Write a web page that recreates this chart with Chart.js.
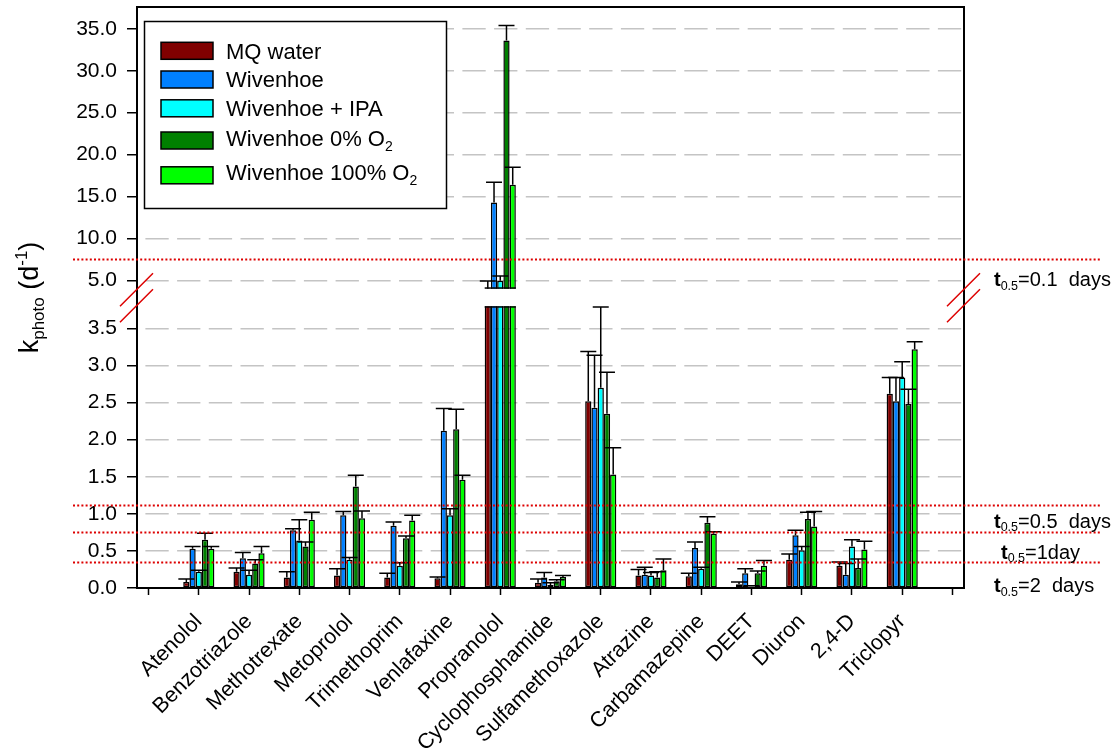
<!DOCTYPE html>
<html>
<head>
<meta charset="utf-8">
<title>Photolysis rate constants</title>
<style>
  html, body { margin: 0; padding: 0; background: #ffffff; }
  #wrap { position: relative; width: 1120px; height: 749px; }
</style>
<script src="https://cdn.jsdelivr.net/npm/chart.js@4/dist/chart.umd.min.js"></script>
</head>
<body>
<div id="wrap"><canvas id="chart" width="1120" height="749"></canvas></div>
<script>
// ---- data ---------------------------------------------------------------
const categories = ['Atenolol', 'Benzotriazole', 'Methotrexate', 'Metoprolol', 'Trimethoprim',
  'Venlafaxine', 'Propranolol', 'Cyclophosphamide', 'Sulfamethoxazole', 'Atrazine',
  'Carbamazepine', 'DEET', 'Diuron', '2,4-D', 'Triclopyr'];

const seriesNames = ['MQ water', 'Wivenhoe', 'Wivenhoe + IPA', 'Wivenhoe 0% O2', 'Wivenhoe 100% O2'];
const seriesColors = ['#800000', '#0080ff', '#00ffff', '#008000', '#00ff00'];

// k_photo (d^-1)
const mqWater    = [0.08, 0.22, 0.14, 0.17, 0.14, 0.13, 4.0,  0.07, 2.52, 0.17, 0.16, 0.05, 0.38, 0.30, 2.62];
const wivenhoe   = [0.53, 0.40, 0.78, 0.98, 0.84, 2.12, 14.3, 0.14, 2.43, 0.18, 0.54, 0.20, 0.71, 0.18, 2.52];
const wivIPA     = [0.22, 0.18, 0.64, 0.38, 0.30, 0.98, 4.95, 0.04, 2.70, 0.17, 0.26, 0.02, 0.51, 0.56, 2.84];
const wivO2zero  = [0.65, 0.33, 0.56, 1.37, 0.67, 2.14, 33.6, 0.09, 2.35, 0.14, 0.88, 0.20, 0.93, 0.27, 2.48];
const wivO2full  = [0.53, 0.47, 0.92, 0.94, 0.91, 1.46, 16.4, 0.15, 1.53, 0.24, 0.73, 0.30, 0.83, 0.52, 3.22];

// upper error (standard deviation)
const mqWaterErr   = [0.04, 0.05, 0.08, 0.09, 0.06, 0.02, 0.92, 0.05, 0.67, 0.08, 0.04, 0.03, 0.08, 0.05, 0.22];
const wivenhoeErr  = [0.03, 0.08, 0.02, 0.05, 0.05, 0.30, 2.40, 0.07, 0.71, 0.10, 0.08, 0.06, 0.07, 0.15, 0.32];
const wivIPAErr    = [0.02, 0.06, 0.28, 0.03, 0.04, 0.09, 0.58, 0.03, 1.09, 0.04, 0.02, 0.01, 0.05, 0.09, 0.21];
const wivO2zeroErr = [0.09, 0.05, 0.06, 0.15, 0.03, 0.27, 1.80, 0.02, 0.56, 0.08, 0.08, 0.03, 0.09, 0.12, 0.20];
const wivO2fullErr = [0.03, 0.09, 0.10, 0.10, 0.07, 0.06, 2.10, 0.02, 0.36, 0.15, 0.03, 0.07, 0.20, 0.11, 0.10];

// axis ticks
const yTickValues = [0, 0.5, 1, 1.5, 2, 2.5, 3, 3.5, 5, 10, 15, 20, 25, 30, 35];
const xTickValues = [0, 1, 2, 3, 4, 5, 6, 7, 8, 9, 10, 11, 12, 13, 14, 15, 16];
const xTickLabels = ['', ...categories, ''];

// broken y axis: lower part 0-3.8, upper part 4-37.6
const lowerMax = 3.8;
const upperMin = 4.0;
const upperMax = 37.6;

// half-life reference levels (k values) and their labels
const halfLifeK = [7.5, 1.12, 0.76, 0.345];
const halfLifeText = ['=0.1  days', '=0.5  days', '=1day', '=2  days'];

const seriesValues = [mqWater, wivenhoe, wivIPA, wivO2zero, wivO2full];
const seriesErrors = [mqWaterErr, wivenhoeErr, wivIPAErr, wivO2zeroErr, wivO2fullErr];

// ---- drawing helpers -------------------------------------------------------
const FONT = "'Liberation Sans', Arial, Helvetica, sans-serif";
Chart.defaults.font.family = FONT;
Chart.defaults.color = '#000';

// draws text made of segments: {t, bold, sub, sup}
function drawRich(ctx, segs, x, y, o) {
  const fontOf = s => `${s.bold ? 'bold ' : ''}${(s.sub || s.sup) ? o.small : o.size}px ${FONT}`;
  const widths = segs.map(s => { ctx.font = fontOf(s); return ctx.measureText(s.t).width; });
  const total = widths.reduce((a, b) => a + b, 0);
  let cx = o.align === 'center' ? x - total / 2 : (o.align === 'right' ? x - total : x);
  ctx.textAlign = 'left';
  ctx.textBaseline = 'alphabetic';
  segs.forEach((s, i) => {
    ctx.font = fontOf(s);
    const dy = s.sub ? o.subDy : (s.sup ? o.supDy : 0);
    ctx.fillText(s.t, cx, y + dy);
    cx += widths[i];
  });
}

function nameSegments(name) {
  const m = name.match(/^(.*O)2$/);
  return m ? [{ t: m[1] }, { t: '2', sub: true }] : [{ t: name }];
}

// ---- scale with a break between the two value ranges ----------------------
const GAP_SHARE = 0.03;
class BrokenLinearScale extends Chart.LinearScale {
  static id = 'brokenLinear';
  buildTicks() {
    return yTickValues.map(v => ({ value: v }));
  }
  segmentHeight() {
    return (this.bottom - this.top) * (1 - GAP_SHARE) / 2;
  }
  getPixelForValue(value) {
    if (value === null || value === undefined || isNaN(value)) return NaN;
    const seg = this.segmentHeight();
    if (value <= lowerMax) return this.bottom - (value / lowerMax) * seg;
    if (value >= upperMin) return this.top + ((upperMax - value) / (upperMax - upperMin)) * seg;
    const gTop = this.top + seg, gBot = this.bottom - seg;
    return gBot - (value - lowerMax) / (upperMin - lowerMax) * (gBot - gTop);
  }
  getValueForPixel(pixel) {
    const seg = this.segmentHeight();
    const gTop = this.top + seg, gBot = this.bottom - seg;
    if (pixel >= gBot) return (this.bottom - pixel) / seg * lowerMax;
    if (pixel <= gTop) return upperMax - (pixel - this.top) / seg * (upperMax - upperMin);
    return lowerMax + (gBot - pixel) / (gBot - gTop) * (upperMin - lowerMax);
  }
}
Chart.register(BrokenLinearScale);

// ---- plugin: break gap, error bars, reference lines, legend, frame --------
const decorations = {
  id: 'decorations',
  beforeDatasetsDraw(chart) {
    const { ctx, chartArea: a, scales: { y } } = chart;
    const gTop = y.getPixelForValue(upperMin);
    const gBot = y.getPixelForValue(lowerMax);
    ctx.save();
    ctx.beginPath();
    ctx.rect(a.left - 30, a.top - 30, a.width + 60, gTop - a.top + 30);
    ctx.rect(a.left - 30, gBot, a.width + 60, a.bottom - gBot + 30);
    ctx.clip();
  },
  afterDatasetsDraw(chart) {
    const { ctx, chartArea: a, scales: { y } } = chart;
    ctx.restore();
    const gTop = y.getPixelForValue(upperMin);
    const gBot = y.getPixelForValue(lowerMax);
    const bw = 1.5;

    // closing edges of the bars that cross the break
    ctx.save();
    ctx.fillStyle = '#000';
    chart.data.datasets.forEach((ds, di) => {
      chart.getDatasetMeta(di).data.forEach((bar, i) => {
        const v = ds.data[i].y;
        if (v > lowerMax) {
          const l = bar.x - bar.width / 2;
          ctx.fillRect(l, gBot, bar.width, bw);
          if (v >= upperMin) ctx.fillRect(l, gTop - bw, bar.width, bw);
        }
      });
    });

    // error bars (upper only)
    ctx.strokeStyle = '#000';
    ctx.lineWidth = 1.5;
    chart.data.datasets.forEach((ds, di) => {
      const errs = seriesErrors[di];
      chart.getDatasetMeta(di).data.forEach((bar, i) => {
        const v = ds.data[i].y;
        const yTop = y.getPixelForValue(v);
        const yErr = y.getPixelForValue(v + errs[i]);
        ctx.beginPath();
        ctx.moveTo(bar.x, yTop);
        ctx.lineTo(bar.x, yErr);
        ctx.moveTo(bar.x - 8, yErr);
        ctx.lineTo(bar.x + 8, yErr);
        ctx.stroke();
      });
    });

    // plot frame
    ctx.lineWidth = 2;
    ctx.strokeRect(a.left, a.top, a.width, a.height);

    // half-life reference lines
    ctx.strokeStyle = '#dd0000';
    ctx.lineWidth = 2;
    ctx.setLineDash([2, 2.2]);
    halfLifeK.forEach(k => {
      const py = Math.round(y.getPixelForValue(k)) + 0.5;
      ctx.beginPath();
      ctx.moveTo(73, py);
      ctx.lineTo(1102, py);
      ctx.stroke();
    });
    ctx.setLineDash([]);

    ctx.fillStyle = '#000';
    const labelDy = [27, 23, 27, 30];
    const labelX = [994, 994, 1001, 994];
    halfLifeK.forEach((k, i) => {
      const py = y.getPixelForValue(k);
      drawRich(ctx, [{ t: 't', bold: true }, { t: '0.5', sub: true }, { t: halfLifeText[i] }],
        labelX[i], py + labelDy[i], { size: 20, small: 12.5, subDy: 3.5, align: 'left' });
    });

    // axis break marks
    ctx.lineWidth = 1.5;
    const brk = (x) => {
      ctx.beginPath();
      ctx.moveTo(x - 17, gBot + 0); ctx.lineTo(x + 16, gBot - 33);
      ctx.moveTo(x - 17, gBot + 16); ctx.lineTo(x + 16, gBot - 17);
      ctx.stroke();
    };
    brk(a.left);
    brk(a.right);
    ctx.restore();
  },
  afterDraw(chart) {
    const { ctx } = chart;
    ctx.save();
    // legend
    ctx.fillStyle = '#fff';
    ctx.fillRect(144.5, 21.5, 302, 187);
    ctx.strokeStyle = '#000';
    ctx.lineWidth = 1.5;
    ctx.strokeRect(144.5, 21.5, 302, 187);
    const swatchMid = [50.8, 79.5, 108.3, 140.5, 175.3];
    const textBase = [59, 87.3, 116, 145.7, 180];
    seriesNames.forEach((name, i) => {
      ctx.fillStyle = seriesColors[i];
      ctx.fillRect(161, swatchMid[i] - 8.5, 52, 17);
      ctx.strokeRect(161, swatchMid[i] - 8.5, 52, 17);
      ctx.fillStyle = '#000';
      drawRich(ctx, nameSegments(name), 226, textBase[i], { size: 22, small: 14, subDy: 5, align: 'left' });
    });

    // y-axis title
    ctx.translate(38, 297.5);
    ctx.rotate(-Math.PI / 2);
    ctx.fillStyle = '#000';
    drawRich(ctx, [{ t: 'k' }, { t: 'photo', sub: true }, { t: ' (d' }, { t: '-1', sup: true }, { t: ')' }],
      0, 0, { size: 27, small: 17, subDy: 6, supDy: -11, align: 'center' });
    ctx.restore();
  }
};

// ---- chart ------------------------------------------------------------------
new Chart(document.getElementById('chart'), {
  type: 'bar',
  data: {
    datasets: seriesNames.map((name, si) => ({
      label: name,
      data: seriesValues[si].map((v, i) => ({ x: i + 1, y: v })),
      backgroundColor: seriesColors[si],
      borderColor: '#000',
      borderWidth: 1.5,
      borderSkipped: false,
      categoryPercentage: 0.62,
      barPercentage: 1.0
    }))
  },
  options: {
    responsive: false,
    animation: false,
    events: [],
    layout: { padding: { top: 7, right: 156, left: 0, bottom: 0 } },
    plugins: { legend: { display: false }, tooltip: { enabled: false } },
    scales: {
      x: {
        type: 'linear',
        offset: false,
        min: -0.23,
        max: 16.23,
        afterBuildTicks: s => { s.ticks = xTickValues.map(v => ({ value: v })); },
        afterFit: s => { s.height = 161; s.paddingLeft = 0; s.paddingRight = 0; },
        ticks: {
          callback: v => xTickLabels[v] ?? '',
          minRotation: 45, maxRotation: 45, autoSkip: false,
          font: { size: 21.5 }, color: '#000', padding: 14
        },
        grid: { offset: false, drawOnChartArea: false, tickLength: 7, tickColor: '#000', tickWidth: 1.5 },
        border: { display: false }
      },
      y: {
        type: 'brokenLinear',
        min: 0,
        max: upperMax,
        afterFit: s => { s.width = 137; s.paddingTop = 0; s.paddingBottom = 0; },
        ticks: {
          callback: v => Number(v).toFixed(1),
          autoSkip: false, font: { size: 21 }, color: '#000', padding: 10
        },
        grid: {
          color: c => (c.tick && c.tick.value === 0) ? 'rgba(0,0,0,0)' : '#c4c4c4',
          lineWidth: 1.5, tickLength: 10, tickColor: '#000', tickWidth: 1.5, tickBorderDash: []
        },
        border: { display: false, dash: [23.3, 8.4], dashOffset: 23.3 }
      }
    }
  },
  plugins: [decorations]
});
</script>
</body>
</html>
